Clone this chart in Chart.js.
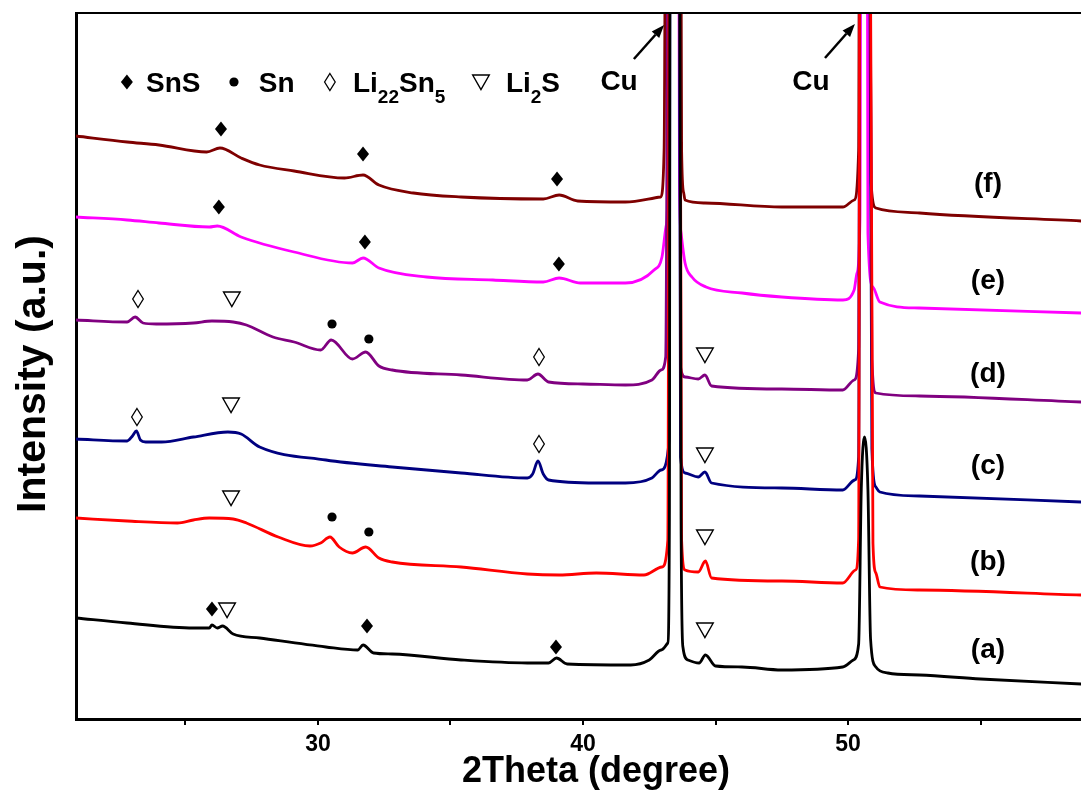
<!DOCTYPE html>
<html>
<head>
<meta charset="utf-8">
<script src="https://cdn.jsdelivr.net/npm/chart.js@4.4.0/dist/chart.umd.min.js"></script>
<style>
  html, body { margin: 0; padding: 0; background: #fff; overflow: hidden; }
</style>
</head>
<body>
<canvas id="xrd" width="1081" height="792"></canvas>
<script>
// XRD patterns, offset in arbitrary units; [2theta, intensity]
// Cu reflections run far off the top of the frame (1500)
const patternA = [[20.87,101],[22.8,96],[25.3,91],[25.9,91],[26.0,94],[26.2,91],[26.4,93],[26.8,85],[27.8,81],[30.3,72],[31.5,69],[31.7,74],[32.1,66],[32.8,65],[35.4,59],[37.9,56],[38.7,56],[39.0,61],[39.4,55],[41.8,54],[42.5,59],[42.95,69],[43.2,76],[43.26,200],[43.3,1500],[43.6,1500],[43.7,200],[43.77,72],[43.96,59],[44.38,56],[44.62,64],[45.0,53],[46.0,52],[47.5,49],[49.8,52],[50.2,59],[50.4,75],[50.5,230],[50.62,282],[50.75,230],[50.85,80],[51.05,52],[51.5,46],[52.7,44],[55.0,40],[58.8,35]]
const patternB = [[20.87,201],[22.8,198],[24.7,196],[25.3,199],[25.9,201],[26.8,200],[27.3,196],[28.5,182],[29.7,173],[30.1,176],[30.45,182],[30.8,172],[31.3,166],[31.8,172],[32.3,161],[32.8,157],[35.4,152],[37.9,145],[39.1,144],[40.5,146],[42.3,144],[42.98,152],[43.2,179],[43.3,1500],[43.58,1500],[43.72,179],[43.85,149],[44.35,147],[44.62,158],[44.85,141],[47.5,138],[49.8,136],[50.28,149],[50.4,180],[50.48,1500],[50.72,1500],[50.94,176],[51.05,146],[51.2,132],[52.7,129],[58.8,124]]
const patternC = [[20.87,280],[22.8,278],[23.0,283],[23.15,288],[23.3,279],[23.5,277],[24.1,277],[25.3,282],[26.6,287],[27.1,285],[27.8,272],[30.3,259],[32.8,252],[35.4,246],[37.9,241],[38.1,245],[38.3,258],[38.5,245],[38.7,239],[40.5,236],[41.6,236],[42.6,241],[42.95,249],[43.25,279],[43.32,1500],[43.58,1500],[43.68,262],[43.85,246],[44.35,242],[44.6,247],[44.85,236],[47.5,231],[49.8,229],[50.25,239],[50.4,262],[50.5,1500],[50.7,1500],[50.9,270],[51.05,232],[51.2,227],[52.7,223],[58.8,217]]
const patternD = [[20.87,399],[22.8,397],[23.1,402],[23.4,396],[23.9,395],[25.3,396],[26.0,398],[26.8,397],[27.3,394],[28.3,382],[29.1,377],[30.1,369],[30.5,379],[31.3,360],[31.8,367],[32.3,353],[32.8,349],[35.4,344],[37.9,339],[38.3,345],[38.7,337],[40.0,335],[41.6,334],[42.6,339],[42.95,349],[43.12,362],[43.3,1500],[43.58,1500],[43.68,352],[43.85,342],[44.35,340],[44.6,344],[44.85,333],[47.5,330],[49.8,329],[50.23,339],[50.4,370],[50.5,1500],[50.7,1500],[50.9,360],[51.05,326],[52.7,323],[58.8,317]]
const patternE = [[20.87,502],[22.8,499],[24.0,496],[25.9,492],[26.2,493],[27.1,482],[29.1,467],[31.3,456],[31.7,461],[32.3,451],[34.1,442],[36.6,439],[38.5,437],[39.1,441],[39.9,436],[41.6,436],[42.68,449],[42.98,462],[43.13,492],[43.21,536],[43.33,1500],[43.55,1500],[43.64,536],[43.7,486],[43.85,456],[44.11,442],[44.64,432],[46.0,426],[47.5,422],[49.81,419],[50.23,429],[50.34,446],[50.45,500],[50.52,1500],[50.68,1500],[50.75,486],[50.94,432],[51.2,417],[52.68,411],[58.8,406]]
const patternF = [[20.87,583],[22.8,577],[24.0,574],[25.8,567],[26.3,571],[27.1,561],[27.8,554],[29.1,548],[31.0,541],[31.7,544],[32.3,534],[33.6,526],[35.4,522],[38.5,520],[39.1,524],[39.8,518],[41.6,517],[42.93,522],[43.06,569],[43.2,1500],[43.62,1500],[43.72,569],[43.8,526],[43.85,519],[44.6,516],[47.5,512],[49.8,512],[50.23,519],[50.4,569],[50.47,1500],[50.72,1500],[50.87,536],[51.05,511],[52.7,506],[58.8,498]]

const sampleNames = ['(a)', '(b)', '(c)', '(d)', '(e)', '(f)']
const sampleColors = ['#000000', '#ff0000', '#000080', '#800080', '#ff00ff', '#7f0000']
const samplePatterns = [patternA, patternB, patternC, patternD, patternE, patternF]
const sampleLabelY = [69, 157, 253, 345, 438, 535]

// phase markers [2theta, height]
const snsMarks = [[26.34,590],[31.70,565],[39.02,540],[26.26,512],[31.77,477],[39.09,455],[26.0,110],[31.85,93],[38.98,72]]
const snMarks = [[30.53,395],[31.92,380],[30.53,202],[31.92,187]]
const li22sn5Marks = [[23.21,420],[38.34,362],[23.17,302],[38.34,275]]
const li2sMarks = [[26.75,420],[44.6,364],[26.72,314],[44.6,264],[26.72,221],[44.6,182],[26.57,109],[44.6,89]]

const FONT = "'Liberation Sans', Arial, sans-serif"

// marker glyphs drawn as small shapes centred on (px, py)
function drawMarker(ctx, kind, px, py) {
  ctx.beginPath()
  if (kind === 'sns') {
    ctx.moveTo(px, py - 7.5); ctx.lineTo(px + 6, py); ctx.lineTo(px, py + 7.5); ctx.lineTo(px - 6, py)
    ctx.closePath(); ctx.fill()
  } else if (kind === 'sn') {
    ctx.arc(px, py, 4.6, 0, Math.PI * 2); ctx.fill()
  } else if (kind === 'li22sn5') {
    ctx.lineWidth = 1.3
    ctx.moveTo(px, py - 8.5); ctx.lineTo(px + 5.3, py); ctx.lineTo(px, py + 8.5); ctx.lineTo(px - 5.3, py)
    ctx.closePath(); ctx.stroke()
  } else if (kind === 'li2s') {
    ctx.lineWidth = 1.4
    ctx.moveTo(px - 8.3, py - 7); ctx.lineTo(px + 8.3, py - 7); ctx.lineTo(px, py + 7.5)
    ctx.closePath(); ctx.stroke()
  }
}

// text with subscripts: parts = [[text, isSub], ...]
function drawRich(ctx, parts, px, baseY) {
  let cx = px
  ctx.textAlign = 'left'
  ctx.textBaseline = 'alphabetic'
  parts.forEach(([text, sub]) => {
    ctx.font = sub ? `bold 19px ${FONT}` : `bold 28px ${FONT}`
    ctx.fillText(text, cx, sub ? baseY + 11 : baseY)
    cx += ctx.measureText(text).width
  })
}

function drawArrow(ctx, x0, y0, x1, y1) {
  const ang = Math.atan2(y1 - y0, x1 - x0)
  const head = 13, half = 5
  const bx = x1 - head * Math.cos(ang), by = y1 - head * Math.sin(ang)
  ctx.lineWidth = 2.5
  ctx.beginPath()
  ctx.moveTo(x0, y0)
  ctx.lineTo(bx, by)
  ctx.stroke()
  ctx.beginPath()
  ctx.moveTo(x1, y1)
  ctx.lineTo(bx + half * Math.sin(ang), by - half * Math.cos(ang))
  ctx.lineTo(bx - half * Math.sin(ang), by + half * Math.cos(ang))
  ctx.closePath()
  ctx.fill()
}

const legendRow = [
  { kind: 'sns', at: 22.79, text: 23.51, parts: [['SnS', false]] },
  { kind: 'sn', at: 26.83, text: 27.77, parts: [['Sn', false]] },
  { kind: 'li22sn5', at: 30.45, text: 31.32, parts: [['Li', false], ['22', true], ['Sn', false], ['5', true]] },
  { kind: 'li2s', at: 36.15, text: 37.09, parts: [['Li', false], ['2', true], ['S', false]] },
]

const annotate = {
  id: 'annotate',
  afterDatasetsDraw(chart) {
    const { ctx, chartArea, scales: { x, y } } = chart
    ctx.save()
    ctx.fillStyle = '#000'
    ctx.strokeStyle = '#000'

    // top frame
    ctx.lineWidth = 2
    ctx.beginPath()
    ctx.moveTo(chartArea.left, chartArea.top)
    ctx.lineTo(chartArea.right, chartArea.top)
    ctx.stroke()

    const put = (kind, list) => list.forEach(([t, v]) => drawMarker(ctx, kind, x.getPixelForValue(t), y.getPixelForValue(v)))
    put('sns', snsMarks)
    put('sn', snMarks)
    put('li22sn5', li22sn5Marks)
    put('li2s', li2sMarks)

    // legend row
    legendRow.forEach(item => {
      drawMarker(ctx, item.kind, x.getPixelForValue(item.at), y.getPixelForValue(637))
      drawRich(ctx, item.parts, x.getPixelForValue(item.text), y.getPixelForValue(627))
    })

    // Cu labels with arrows
    ctx.font = `bold 28px ${FONT}`
    ctx.textAlign = 'center'
    ctx.textBaseline = 'alphabetic'
    ctx.fillText('Cu', x.getPixelForValue(41.36), y.getPixelForValue(629))
    ctx.fillText('Cu', x.getPixelForValue(48.6), y.getPixelForValue(629))
    drawArrow(ctx, x.getPixelForValue(41.92), y.getPixelForValue(660), x.getPixelForValue(43.06), y.getPixelForValue(694))
    drawArrow(ctx, x.getPixelForValue(49.13), y.getPixelForValue(661), x.getPixelForValue(50.26), y.getPixelForValue(695))

    // sample labels
    ctx.font = `bold 28px ${FONT}`
    ctx.textAlign = 'center'
    ctx.textBaseline = 'middle'
    sampleNames.forEach((name, i) => {
      ctx.fillText(name, x.getPixelForValue(55.28), y.getPixelForValue(sampleLabelY[i]))
    })

    // axis titles
    ctx.font = `bold 36px ${FONT}`
    ctx.textAlign = 'center'
    ctx.textBaseline = 'alphabetic'
    ctx.fillText('2Theta (degree)', 596, 782)
    ctx.translate(45, 374)
    ctx.rotate(-Math.PI / 2)
    ctx.font = `bold 41px ${FONT}`
    ctx.fillText('Intensity (a.u.)', 0, 0)
    ctx.restore()
  }
}

new Chart(document.getElementById('xrd'), {
  type: 'line',
  data: {
    datasets: samplePatterns.map((pts, i) => ({
      label: sampleNames[i],
      data: pts.map(([t, v]) => ({ x: t, y: v })),
      borderColor: sampleColors[i],
      borderWidth: 2.8,
      pointRadius: 0,
      cubicInterpolationMode: 'monotone',
      fill: false,
    })),
  },
  options: {
    responsive: false,
    animation: false,
    layout: { padding: { top: 13, right: 0, bottom: 0, left: 0 } },
    plugins: {
      legend: { display: false },
      tooltip: { enabled: false },
    },
    scales: {
      x: {
        type: 'linear',
        min: 20.87,
        max: 58.79,
        afterFit: s => { s.height = 73 },
        border: { color: '#000', width: 3 },
        grid: { display: true, drawOnChartArea: false, color: '#000', lineWidth: 2, tickLength: 6 },
        ticks: {
          stepSize: 5,
          includeBounds: false,
          autoSkip: false,
          maxRotation: 0,
          color: '#000',
          padding: 6,
          font: { family: FONT, size: 23, weight: 'bold' },
          callback: v => (v % 10 === 0 ? v : ''),
        },
        title: { display: false },
      },
      y: {
        min: 0,
        max: 706,
        afterFit: s => { s.width = 76 },
        border: { color: '#000', width: 3 },
        grid: { display: false },
        ticks: { display: false },
        title: { display: false },
      },
    },
  },
  plugins: [annotate],
})
</script>
</body>
</html>
